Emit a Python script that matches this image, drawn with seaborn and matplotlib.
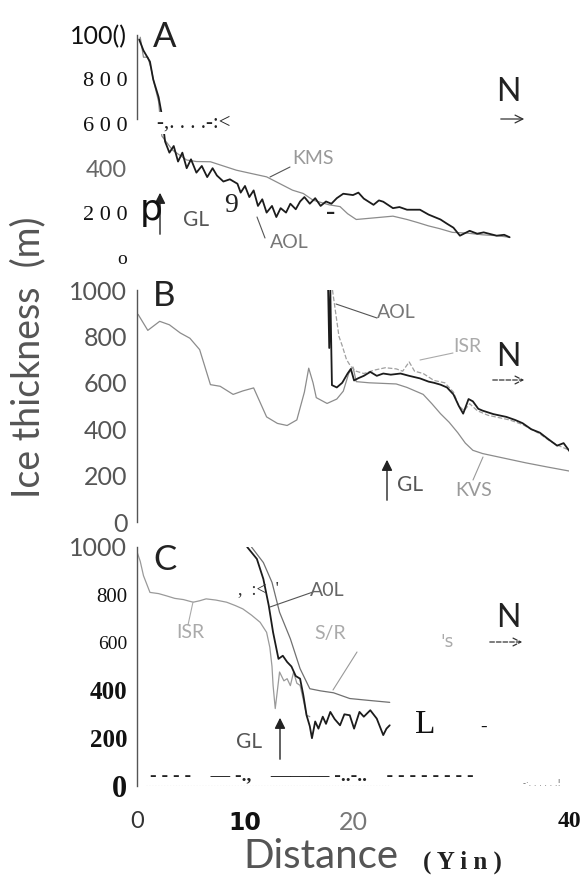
import matplotlib
matplotlib.use("Agg")
import matplotlib.pyplot as plt
from matplotlib.lines import Line2D
import seaborn as sns

sns.set_theme(style="white")
plt.rcParams["font.family"] = ["DejaVu Sans"]

# ---- panel A (km, m) ----
a_aol_km = [0.2, 0.6, 1.2, 1.5, 2.0, 2.3, 2.6, 3.0, 3.4, 3.8, 4.2, 4.6, 5.0, 5.5, 6.0, 6.5,
            7.0, 7.4, 8.0, 8.6, 9.3, 9.6, 10.0, 10.4, 10.8, 11.2, 11.6, 12.0, 12.5, 12.9,
            13.3, 13.8, 14.2, 14.7, 15.1, 15.5, 16.0, 16.5, 17.0, 17.5, 18.0, 18.5, 19.1,
            20.0, 20.5, 21.0, 21.9, 22.4, 22.8, 23.7, 24.3, 25.0, 26.2, 27.0, 28.1, 28.7,
            29.3, 29.9, 30.8, 31.5, 32.1, 33.3, 34.0, 34.5]
a_aol_m = [980, 930, 880, 800, 720, 640, 520, 470, 500, 430, 470, 400, 440, 380, 410, 360,
           400, 367, 340, 350, 330, 290, 320, 270, 300, 230, 260, 200, 230, 180,
           220, 200, 240, 215, 250, 270, 240, 265, 230, 250, 240, 265, 285,
           279, 290, 263, 235, 255, 249, 220, 225, 213, 213, 191, 169, 150,
           132, 96, 118, 105, 111, 96, 100, 89]
a_kms_km = [0.3, 0.6, 1.0, 1.3, 1.6, 2.0, 2.3, 3.3, 4.6, 5.5, 6.8, 8.0, 9.2, 10.5, 12.0,
            13.2, 14.4, 15.4, 16.3, 17.8, 18.8, 19.5, 20.3, 21.9, 23.7, 25.0, 26.0, 27.0,
            28.0, 29.2, 30.5, 32.0, 33.3, 34.5]
a_kms_m = [990, 900, 900, 850, 780, 700, 545, 481, 437, 430, 429, 410, 391, 377, 361,
           331, 301, 286, 256, 235, 227, 195, 169, 176, 184, 169, 155, 140,
           128, 111, 108, 100, 96, 89]

# ---- panel B ----
b_kvs_km = [0.1, 1.0, 2.1, 3.0, 4.0, 4.9, 5.8, 6.8, 7.7, 8.9, 9.8, 10.8, 12.0, 13.0, 13.9,
            14.8, 15.5, 15.9, 16.3, 16.6, 17.6, 18.5, 19.1, 19.6, 20.0, 20.3, 21.5, 22.5,
            24.0, 25.0, 26.5, 27.3, 28.1, 28.9, 29.7, 30.4, 31.1, 32.0, 34.0, 36.0, 38.0, 40.1]
b_kvs_m = [895, 826, 865, 850, 815, 792, 743, 592, 585, 550, 565, 578, 453, 425, 416,
           440, 560, 663, 600, 536, 511, 530, 564, 640, 668, 605, 600, 598,
           595, 580, 550, 510, 467, 430, 385, 340, 309, 295, 275, 255, 237, 219]
b_isr_km = [18.1, 18.4, 18.7, 19.0, 19.4, 19.8, 20.3, 21.0, 22.0, 23.0, 24.0, 24.6, 25.2,
            25.7, 26.5, 27.5, 28.5, 29.3, 29.8, 30.3, 30.8, 31.5, 32.5, 33.5, 34.5, 35.7,
            36.5, 37.3, 38.2, 39.0, 40.0]
b_isr_m = [1000, 900, 800, 760, 700, 670, 650, 640, 655, 665, 660, 650, 690,
           650, 640, 610, 600, 560, 500, 480, 510, 480, 460, 450, 440, 420,
           400, 380, 350, 330, 310]
b_aol_km = [17.7, 17.8, 17.9, 18.0, 18.05, 18.5, 19.0, 19.5, 19.8, 20.1, 20.5, 21.0, 21.6,
            22.2, 22.8, 23.5, 24.4, 25.2, 26.2, 27.0, 27.5, 28.1, 28.7, 29.3, 29.8, 30.2,
            30.7, 31.1, 31.6, 32.0, 33.0, 34.2, 35.0, 35.7, 36.5, 37.3, 38.0, 38.9, 39.5, 40.1]
b_aol_m = [1000, 750, 1000, 720, 590, 580, 600, 640, 660, 610, 620, 630, 647,
           630, 640, 635, 640, 630, 619, 605, 600, 592, 580, 550, 500, 467,
           530, 520, 488, 480, 465, 453, 440, 426, 400, 385, 360, 329, 340, 302]

# ---- panel C ----
c_isr_km = [0.0, 0.3, 0.6, 1.2, 2.0, 2.7, 3.5, 4.3, 5.2, 5.8, 6.4, 7.3, 8.3, 9.1, 9.8,
            10.6, 11.4, 12.0, 12.3, 12.5, 12.6, 12.8, 13.0, 13.2, 13.6, 13.9, 14.2, 14.5,
            14.8, 15.1, 15.4, 15.7, 16.0]
c_isr_m = [980, 940, 880, 810, 805, 796, 785, 780, 769, 775, 783, 778, 769, 755, 741,
           715, 685, 643, 580, 500, 421, 324, 400, 477, 440, 449, 420, 477,
           430, 421, 360, 296, 290]
c_aol_km = [10.2, 11.1, 11.7, 12.2, 12.6, 13.1, 13.5, 13.9, 14.3, 14.7, 15.1, 15.4, 15.7,
            16.0, 16.2, 16.5, 16.8, 17.2, 17.5, 17.9, 18.3, 18.8, 19.2, 19.7, 20.1, 20.6,
            21.0, 21.6, 22.2, 22.8, 23.1, 23.4]
c_aol_m = [1000, 950, 866, 755, 643, 532, 545, 519, 500, 460, 449, 380, 296,
           250, 200, 270, 240, 290, 260, 310, 280, 254, 300, 296, 240, 310,
           290, 317, 282, 213, 240, 254]
c_kms_km = [10.6, 11.7, 12.5, 13.2, 14.2, 15.1, 16.0, 17.0, 18.2, 19.7, 21.5, 23.4]
c_kms_m = [1000, 935, 852, 727, 616, 491, 407, 398, 390, 366, 358, 350]
c_sea_km = [0.8, 23.4]
c_sea_m = [0, 0]

y_ticks = [0, 200, 400, 600, 800, 1000]
x_ticks = [0, 10, 20, 40]
x_labels = ["0", "10", "20", "40"]

W, H = 588, 882
fig = plt.figure(figsize=(W / 100, H / 100), dpi=100)


def fx(x):
    return x / W


def fy(y):
    return 1 - y / H


def box(top, bottom):
    return [fx(137), fy(bottom), (569 - 137) / W, (bottom - top) / H]


axA = fig.add_axes(box(35, 257))
axB = fig.add_axes(box(290, 522))
axC = fig.add_axes(box(547, 786))

GRAY = "#8c8c8c"
BLACK = "#1c1c1c"


def line(ax, x, y, color, lw, ls="-"):
    sns.lineplot(x=x, y=y, ax=ax, color=color, lw=lw, ls=ls, estimator=None,
                 sort=False, legend=False)


line(axA, a_kms_km, a_kms_m, GRAY, 0.9)
line(axA, a_aol_km, a_aol_m, BLACK, 1.3)
line(axB, b_kvs_km, b_kvs_m, GRAY, 0.9)
line(axB, b_isr_km, b_isr_m, "#a0a0a0", 0.9, "--")
line(axB, b_aol_km, b_aol_m, BLACK, 1.3)
line(axC, c_isr_km, c_isr_m, "#9a9a9a", 0.9)
line(axC, c_kms_km, c_kms_m, "#707070", 0.9)
line(axC, c_aol_km, c_aol_m, BLACK, 1.3)
line(axC, c_sea_km, c_sea_m, "#777777", 0.8, ":")

for ax in (axA, axB, axC):
    ax.set_xlim(0, 40)
    ax.set_ylim(0, 1000)
    ax.set_xlabel("")
    ax.set_ylabel("")
    for s in ("top", "right", "bottom"):
        ax.spines[s].set_visible(False)
    ax.spines["left"].set_color("#555555")
    ax.spines["left"].set_linewidth(1.0)
    ax.patch.set_alpha(0)
    ax.set_yticks(y_ticks)
    ax.tick_params(axis="y", direction="in", length=4, width=1, color="#555555", pad=7)
    ax.set_xticks([])

axA.spines["left"].set_bounds(620, 1000)
axA.tick_params(axis="y", length=0)


def style_labels(ax, texts, specs):
    ax.set_yticks(y_ticks, texts)
    for t, (fam, size, weight, color) in zip(ax.get_yticklabels(), specs):
        t.set_fontfamily(fam)
        t.set_fontsize(size)
        t.set_fontweight(weight)
        t.set_color(color)


SERIF = "Liberation Serif"
SANS = "DejaVu Sans"
THIN = ["Lato", "DejaVu Sans"]
style_labels(axA, ["o", "2 0 0", "400", "6 0 0", "8 0 0", "100()"],
             [(SERIF, 14, "normal", "#111"), (SERIF, 16, "normal", "#111"),
              (THIN, 17, "normal", "#666"), (SERIF, 16, "normal", "#111"),
              (SERIF, 16, "normal", "#111"), (THIN, 18, "normal", "#111")])
style_labels(axB, ["0", "200", "400", "600", "800", "1000"],
             [(THIN, 18, "normal", "#555")] * 6)
style_labels(axC, ["0", "200", "400", "600", "800", "1000"],
             [(SERIF, 22, "bold", "#111"), (SERIF, 18, "bold", "#111"),
              (SERIF, 18, "bold", "#111"), (SERIF, 14, "normal", "#111"),
              (SERIF, 15, "normal", "#111"), (THIN, 18, "normal", "#555")])

axC.set_xticks(x_ticks, x_labels)
axC.tick_params(axis="x", length=0, pad=18)
for t, (fam, size, weight, color) in zip(axC.get_xticklabels(),
                                         [(THIN, 17, "normal", "#333"),
                                          (SANS, 17, "bold", "#111"),
                                          (THIN, 18, "normal", "#777"),
                                          (SERIF, 17, "bold", "#111")]):
    t.set_fontfamily(fam)
    t.set_fontsize(size)
    t.set_fontweight(weight)
    t.set_color(color)

# panel letters and north arrows
for lab, y in (("A", 37), ("B", 296), ("C", 560)):
    fig.text(fx(153), fy(y), lab, fontsize=25, family=THIN,
             color="#222", ha="left", va="center")
for yN, yA, x0, x1, ls in ((92, 119, 498, 527, "-"), (357, 380, 490, 527, "--"),
                           (618, 642, 487, 525, "--")):
    fig.text(fx(508), fy(yN), "N", fontsize=23, family=THIN, color="#222",
             ha="center", va="center")
    fig.add_artist(matplotlib.patches.FancyArrowPatch(
        (fx(x0), fy(yA)), (fx(x1), fy(yA)), transform=fig.transFigure,
        arrowstyle="->", mutation_scale=14, lw=0.9, ls=ls, color="#333"))

# grounding line arrows
for x, y0, y1, tx, ty in ((160, 237, 190, 183, 220), (387, 503, 457, 397, 485),
                          (280, 762, 715, 236, 742)):
    fig.add_artist(matplotlib.patches.FancyArrowPatch(
        (fx(x), fy(y0)), (fx(x), fy(y1)), transform=fig.transFigure,
        arrowstyle="-|>", mutation_scale=16, lw=1.0, color="#222"))
    fig.text(fx(tx), fy(ty), "GL", fontsize=15, family=THIN, color="#555",
             ha="left", va="center")


def leader(x0, y0, x1, y1, color="#555"):
    fig.add_artist(Line2D([fx(x0), fx(x1)], [fy(y0), fy(y1)],
                          transform=fig.transFigure, lw=0.8, color=color))


# profile labels
fig.text(fx(292), fy(158), "KMS", fontsize=14, family=THIN, color="#999", va="center")
leader(270, 177, 290, 167)
fig.text(fx(270), fy(242), "AOL", fontsize=14, family=THIN, color="#777", va="center")
leader(265, 238, 257, 217)
fig.text(fx(377), fy(313), "AOL", fontsize=14, family=THIN, color="#777", va="center")
leader(336, 304, 377, 318)
fig.text(fx(453), fy(347), "ISR", fontsize=14, family=THIN, color="#aaa", va="center")
leader(420, 360, 453, 353, "#aaa")
fig.text(fx(455), fy(490), "KVS", fontsize=14, family=THIN, color="#999", va="center")
leader(483, 457, 473, 480, "#999")
fig.text(fx(176), fy(633), "ISR", fontsize=14, family=THIN, color="#aaa", va="center")
leader(193, 602, 188, 625, "#aaa")
fig.text(fx(238), fy(590), ",  :<  '", fontsize=13, color="#333", va="center",
         family=SERIF)
fig.text(fx(310), fy(590), "A0L", fontsize=14, family=THIN, color="#666", va="center")
leader(270, 607, 313, 592)
fig.text(fx(314), fy(633), "S/R", fontsize=14, family=THIN, color="#aaa", va="center")
leader(333, 690, 357, 652, "#999")
fig.text(fx(440), fy(642), "'s", fontsize=12, color="#aaa", va="center")

# scanned text fragments
fig.text(fx(157), fy(123), "-,. . . .-:<", fontsize=15, family=SERIF, color="#222",
         va="center", bbox=dict(fc="white", ec="none", pad=1))
fig.text(fx(140), fy(210), "p", fontsize=26, color="#111", va="center")
fig.text(fx(224), fy(205), "9", fontsize=20, family=SERIF, color="#222", va="center")
fig.text(fx(326), fy(212), "-", fontsize=20, family=SERIF, weight="bold",
         color="#222", va="center")
fig.text(fx(415), fy(725), "L", fontsize=24, family=SERIF, color="#111", va="center")
fig.text(fx(480), fy(727), "-", fontsize=14, family=SERIF, color="#111", va="center")
fig.text(fx(150), fy(777), "- - - -    — -.,    ——— -..-..    - - - - - - - -",
         fontsize=14, family=SERIF, weight="bold", color="#222", va="center")
fig.text(fx(523), fy(783), "-\u00b7. . . . . .!", fontsize=6, color="#666", va="center")

# axis titles
fig.text(fx(28), fy(357), "Ice thickness  (m)", rotation=90, fontsize=27,
         family=THIN, color="#555", ha="center", va="center")
fig.text(fx(243), fy(857), "Distance", fontsize=29, family=THIN,
         color="#555", va="center")
fig.text(fx(423), fy(862), "( Y i n )", fontsize=18, family=SERIF, weight="bold",
         color="#222", va="center")

fig.savefig("out.png", dpi=100)
